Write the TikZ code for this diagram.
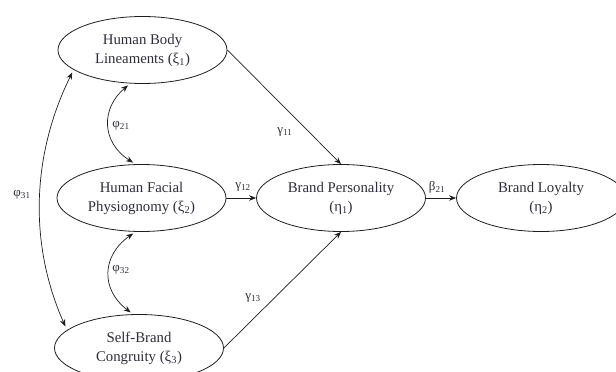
\documentclass[tikz,border=0pt]{standalone}
\usepackage{fontspec}
\setmainfont{Liberation Serif}
\usetikzlibrary{shapes.geometric,arrows.meta}
\definecolor{txt}{RGB}{45,45,60}
\definecolor{ln}{RGB}{30,30,30}
\tikzset{
  latent/.style={ellipse, draw=ln, line width=0.8pt, minimum width=169pt, minimum height=67pt, inner sep=0pt, align=center, text=txt, font=\fontsize{14.8}{19}\selectfont},
  path/.style={draw=ln, line width=0.7pt, -{Stealth[length=7pt,width=5.5pt]}},
  cov/.style={draw=ln, line width=0.7pt, {Stealth[length=7pt,width=5.5pt]}-{Stealth[length=7pt,width=5.5pt]}},
  lab/.style={text=txt, font=\fontsize{13}{15}\selectfont, inner sep=0pt}
}
\newcommand{\sub}[1]{\textsubscript{#1}}
\begin{document}
\begin{tikzpicture}[x=1pt,y=-1pt]
\useasboundingbox (0,0) rectangle (616,372);
\node[latent] (e1) at (142.5,50) {Human Body\\Lineaments (ξ\sub{1})};
\node[latent] (e2) at (141.5,198) {Human Facial\\Physiognomy (ξ\sub{2})};
\node[latent] (e3) at (139,348) {Self-Brand\\Congruity (ξ\sub{3})};
\node[latent] (bp) at (341,198) {Brand Personality\\(η\sub{1})};
\node[latent] (bl) at (541,198) {Brand Loyalty\\(η\sub{2})};

\draw[path] (e1.east) -- (bp.north);
\draw[path] (e2.east) -- (bp.west);
\draw[path] (e3.east) -- (bp.south);
\draw[path] (bp.east) -- (bl.west);

\draw[cov, shorten <=3pt, shorten >=3pt] (e1.250) .. controls (101,108) and (101,142) .. (e2.100);
\draw[cov, shorten <=3pt, shorten >=3pt] (e2.260) .. controls (101,256) and (101,290) .. (e3.100);
\draw[cov, shorten <=3pt, shorten >=4pt] (e1.196) .. controls (31.7,155) and (28.6,243.6) .. (e3.166);

\node[lab] (g11) at (285,132) {γ\sub{11}};
\node[lab] (g12) at (243,187) {γ\sub{12}};
\node[lab] (g13) at (253,298) {γ\sub{13}};
\node[lab] (b21) at (437,187) {β\sub{21}};
\node[lab] (p21) at (121,126) {φ\sub{21}};
\node[lab] (p31) at (22,195) {φ\sub{31}};
\node[lab] (p32) at (121,270) {φ\sub{32}};
\end{tikzpicture}
\end{document}
